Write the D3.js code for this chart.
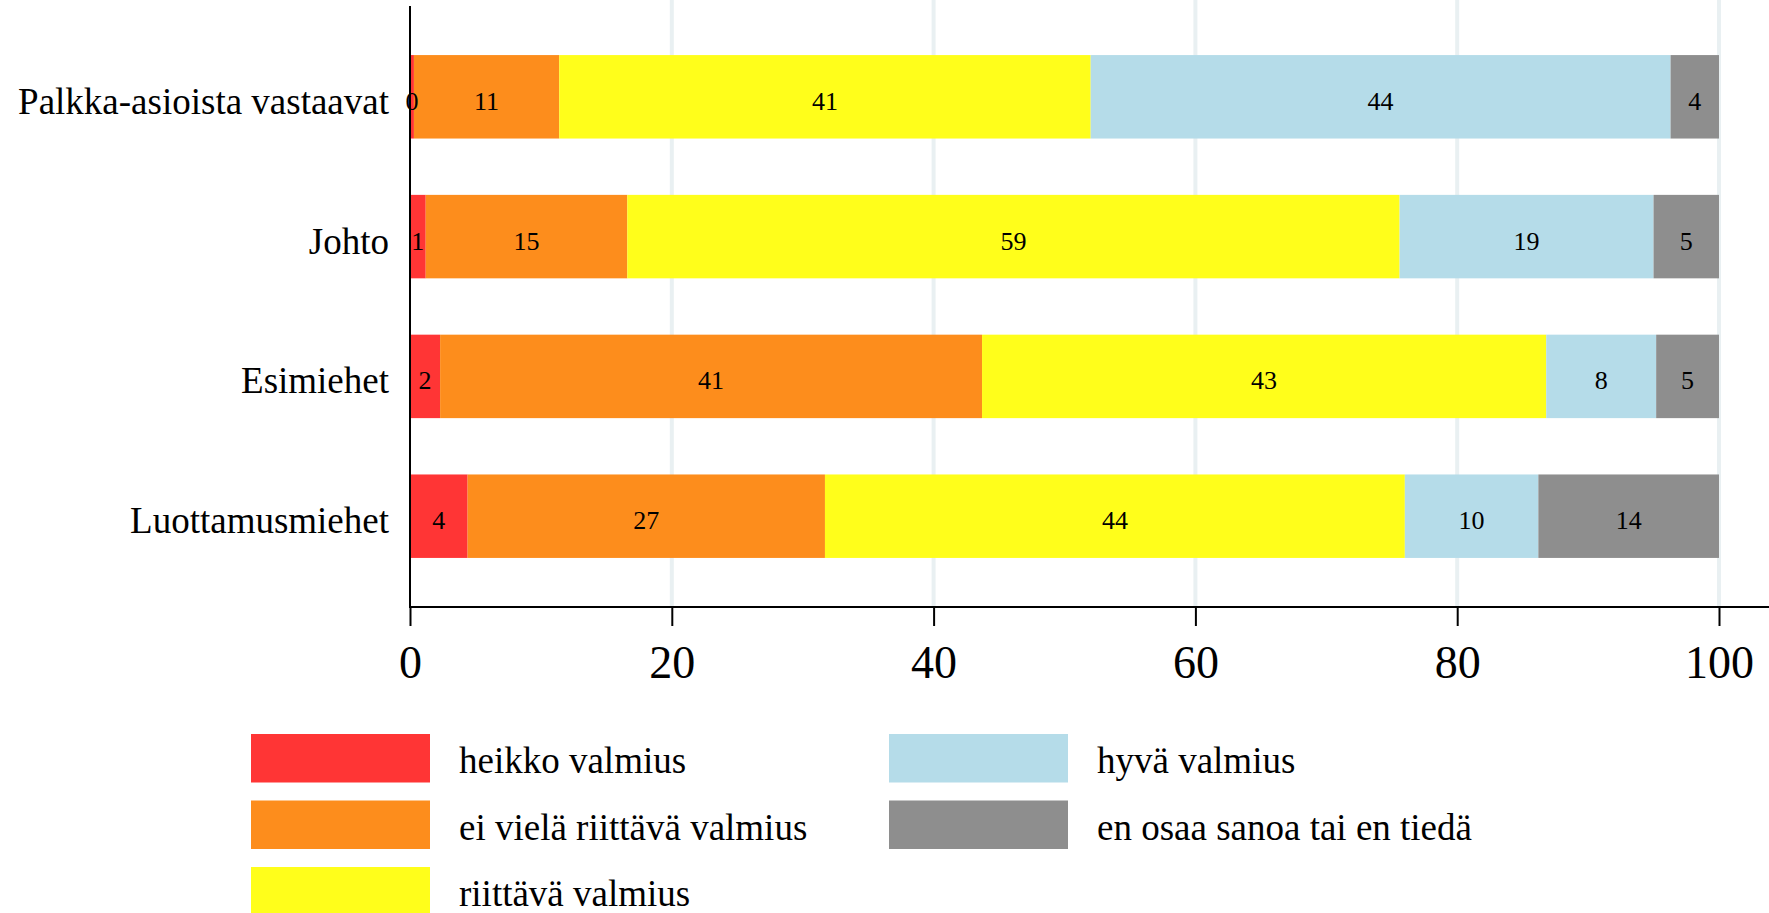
<!DOCTYPE html>
<html><head><meta charset="utf-8">
<script src="https://cdn.jsdelivr.net/npm/d3@7"></script>
<style>body{margin:0;background:#fff}svg{display:block}</style>
</head><body>
<svg id="c" width="1769" height="913"></svg>
<script>
const categories = ["Palkka-asioista vastaavat", "Johto", "Esimiehet", "Luottamusmiehet"];
const seriesNames = ["heikko valmius", "ei vielä riittävä valmius", "riittävä valmius", "hyvä valmius", "en osaa sanoa tai en tiedä"];
const heikko   = [0.3, 1.2, 2.3, 4.4];
const eiViela  = [11.1, 15.4, 41.4, 27.3];
const riittava = [40.6, 59.0, 43.1, 44.3];
const hyva     = [44.3, 19.4, 8.4, 10.2];
const enOsaa   = [3.7, 5.0, 4.8, 13.8];
const colors = ["#ff3535", "#fd8d1c", "#fffe1b", "#b5dce9", "#8e8e8e"];
const xTicks = [0, 20, 40, 60, 80, 100];

const seriesValues = [heikko, eiViela, riittava, hyva, enOsaa];
const rows = categories.map((c, i) => {
  const r = {cat: c};
  seriesNames.forEach((s, j) => r[s] = seriesValues[j][i]);
  return r;
});
const stack = d3.stack().keys(seriesNames)(rows);

const svg = d3.select("#c");
const serif = "'Liberation Serif', 'Times New Roman', serif";
const x = d3.scaleLinear().domain([0, 100]).range([410, 1719]);
const y = d3.scaleBand().domain(categories).range([6, 607]).paddingInner(0.403).paddingOuter(0.351);
const axisY = 607;

// grid
svg.append("g").selectAll("line").data(xTicks.filter(d => d > 0)).join("line")
  .attr("x1", d => x(d)).attr("x2", d => x(d)).attr("y1", 0).attr("y2", axisY)
  .attr("stroke", "#e9f0f2").attr("stroke-width", 4);

// bars
const g = svg.append("g");
stack.forEach((layer, j) => {
  const lg = g.append("g");
  lg.selectAll("rect").data(layer).join("rect")
    .attr("x", d => x(d[0])).attr("width", d => x(d[1]) - x(d[0]))
    .attr("y", d => y(d.data.cat)).attr("height", y.bandwidth())
    .attr("fill", colors[j]);
});
stack.forEach((layer, j) => {
  g.append("g").selectAll("text").data(layer).join("text")
    .attr("x", d => (x(d[0]) + x(d[1])) / 2)
    .attr("y", d => y(d.data.cat) + y.bandwidth() / 2)
    .attr("dy", "0.5em").attr("text-anchor", "middle")
    .attr("font-family", serif).attr("font-size", 26).attr("fill", "#000")
    .text(d => Math.round(d[1] - d[0]));
});

// y axis
svg.append("line").attr("x1", 410).attr("x2", 410).attr("y1", 6).attr("y2", axisY)
  .attr("stroke", "#000").attr("stroke-width", 2);
svg.append("g").selectAll("text").data(categories).join("text")
  .attr("x", 389).attr("y", d => y(d) + y.bandwidth() / 2).attr("dy", "0.46em")
  .attr("text-anchor", "end").attr("font-family", serif).attr("font-size", 37)
  .text(d => d);

// x axis
svg.append("line").attr("x1", 409).attr("x2", 1769).attr("y1", axisY).attr("y2", axisY)
  .attr("stroke", "#000").attr("stroke-width", 2);
const xa = svg.append("g").attr("transform", `translate(0,${axisY})`)
  .call(d3.axisBottom(x).tickValues(xTicks).tickSize(19).tickFormat(d3.format("d")));
xa.select(".domain").remove();
xa.selectAll(".tick line").attr("stroke", "#000").attr("stroke-width", 2);
xa.selectAll(".tick text").attr("y", 71).attr("dy", 0).attr("font-family", serif)
  .attr("font-size", 46).attr("fill", "#000");

// legend
const legPos = [[251, 734], [251, 800.5], [251, 867], [889, 734], [889, 800.5]];
const leg = svg.append("g").selectAll("g").data(seriesNames).join("g")
  .attr("transform", (d, i) => `translate(${legPos[i][0]},${legPos[i][1]})`);
leg.append("rect").attr("width", 179).attr("height", 48.5).attr("fill", (d, i) => colors[i]);
leg.append("text").attr("x", 208).attr("y", 24.25).attr("dy", "0.4em")
  .attr("font-family", serif).attr("font-size", 37).text(d => d);
</script>
</body></html>
